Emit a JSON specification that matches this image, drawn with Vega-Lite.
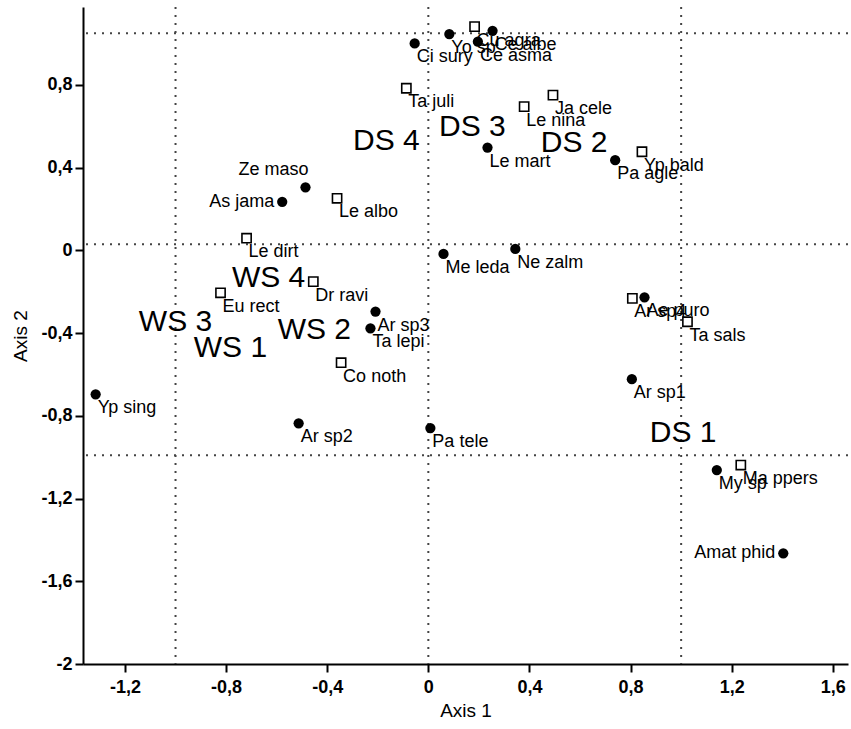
{
  "$schema": "https://vega.github.io/schema/vega-lite/v6.json",
  "width": 765,
  "height": 657,
  "autosize": "none",
  "padding": {"left": 83, "top": 7, "right": 3, "bottom": 65},
  "background": "white",
  "config": {"view": {"stroke": null}, "font": "Liberation Sans"},
  "datasets": {
    "species": [
      {"name": "Yo sp", "type": "dot", "x": 0.083, "y": 1.046},
      {"name": "Ce albe", "type": "dot", "x": 0.254, "y": 1.062},
      {"name": "Ce asma", "type": "dot", "x": 0.196, "y": 1.009},
      {"name": "Ci sury", "type": "dot", "x": -0.054, "y": 1.001},
      {"name": "Le mart", "type": "dot", "x": 0.234, "y": 0.497},
      {"name": "Pa agle", "type": "dot", "x": 0.739, "y": 0.436},
      {"name": "Ze maso", "type": "dot", "x": -0.486, "y": 0.305},
      {"name": "As jama", "type": "dot", "x": -0.578, "y": 0.235},
      {"name": "Me leda", "type": "dot", "x": 0.060, "y": -0.017},
      {"name": "Ne zalm", "type": "dot", "x": 0.344, "y": 0.007},
      {"name": "Ar sp3", "type": "dot", "x": -0.209, "y": -0.296},
      {"name": "Ta lepi", "type": "dot", "x": -0.229, "y": -0.377},
      {"name": "Yp sing", "type": "dot", "x": -1.316, "y": -0.696},
      {"name": "Ar sp2", "type": "dot", "x": -0.513, "y": -0.836},
      {"name": "Pa tele", "type": "dot", "x": 0.008, "y": -0.859},
      {"name": "Ae puro", "type": "dot", "x": 0.855, "y": -0.227},
      {"name": "Ar sp1", "type": "dot", "x": 0.805, "y": -0.623},
      {"name": "My sp", "type": "dot", "x": 1.141, "y": -1.062},
      {"name": "Amat phid", "type": "dot", "x": 1.404, "y": -1.465},
      {"name": "Cu agra", "type": "square", "x": 0.183, "y": 1.082},
      {"name": "Ta juli", "type": "square", "x": -0.087, "y": 0.784},
      {"name": "Le nina", "type": "square", "x": 0.379, "y": 0.695},
      {"name": "Ja cele", "type": "square", "x": 0.493, "y": 0.751},
      {"name": "Yp bald", "type": "square", "x": 0.845, "y": 0.477},
      {"name": "Le albo", "type": "square", "x": -0.361, "y": 0.252},
      {"name": "Le dirt", "type": "square", "x": -0.719, "y": 0.059},
      {"name": "Dr ravi", "type": "square", "x": -0.455, "y": -0.151},
      {"name": "Eu rect", "type": "square", "x": -0.822, "y": -0.205},
      {"name": "Co noth", "type": "square", "x": -0.345, "y": -0.543},
      {"name": "Ar sp4", "type": "square", "x": 0.807, "y": -0.232},
      {"name": "Ta sals", "type": "square", "x": 1.025, "y": -0.345},
      {"name": "Ma ppers", "type": "square", "x": 1.236, "y": -1.038}
    ],
    "sites": [
      {"name": "DS 4", "x": -0.166, "y": 0.528},
      {"name": "DS 3", "x": 0.174, "y": 0.597},
      {"name": "DS 2", "x": 0.577, "y": 0.519},
      {"name": "DS 1", "x": 1.008, "y": -0.883},
      {"name": "WS 4", "x": -0.632, "y": -0.133},
      {"name": "WS 3", "x": -1.0, "y": -0.346},
      {"name": "WS 2", "x": -0.451, "y": -0.385},
      {"name": "WS 1", "x": -0.783, "y": -0.472}
    ],
    "vlines": [{"v": -1.0}, {"v": 0.0}, {"v": 1.0}],
    "hlines": [{"v": 1.05}, {"v": 0.03}, {"v": -0.99}]
  },
  "layer": [
    {
      "data": {"name": "vlines"},
      "mark": {"type": "rule", "color": "#444", "strokeWidth": 2, "strokeDash": [2, 6]},
      "encoding": {
        "x": {"field": "v", "type": "quantitative"}
      }
    },
    {
      "data": {"name": "hlines"},
      "mark": {"type": "rule", "color": "#444", "strokeWidth": 2, "strokeDash": [2, 6]},
      "encoding": {
        "y": {"field": "v", "type": "quantitative"}
      }
    },
    {
      "data": {"name": "species"},
      "transform": [{"filter": "datum.type == 'dot'"}],
      "mark": {"type": "point", "shape": "circle", "filled": true, "color": "black", "size": 105, "opacity": 1},
      "encoding": {
        "x": {"field": "x", "type": "quantitative", "scale": {"domain": [-1.366, 1.66], "nice": false, "zero": false},
          "axis": {"values": [-1.2, -0.8, -0.4, 0, 0.4, 0.8, 1.2, 1.6], "grid": false, "domainColor": "black", "domainWidth": 2, "tickColor": "black", "tickWidth": 2, "tickSize": 8,
            "labelExpr": "replace(replace(format(datum.value, '~g'), '.', ','), '\u2212', '-')",
            "labelFont": "Liberation Sans", "labelFontWeight": "bold", "labelFontSize": 18, "labelColor": "black", "labelPadding": 6,
            "title": "Axis 1", "titleFont": "Liberation Sans", "titleFontWeight": "normal", "titleFontSize": 19, "titleColor": "black", "titlePadding": 5}},
        "y": {"field": "y", "type": "quantitative", "scale": {"domain": [-2, 1.177], "nice": false, "zero": false},
          "axis": {"values": [-2, -1.6, -1.2, -0.8, -0.4, 0, 0.4, 0.8], "grid": false, "domainColor": "black", "domainWidth": 2, "tickColor": "black", "tickWidth": 2, "tickSize": 8,
            "labelExpr": "replace(replace(format(datum.value, '~g'), '.', ','), '\u2212', '-')",
            "labelFont": "Liberation Sans", "labelFontWeight": "bold", "labelFontSize": 18, "labelColor": "black", "labelPadding": 3,
            "title": "Axis 2", "titleFont": "Liberation Sans", "titleFontWeight": "normal", "titleFontSize": 19, "titleColor": "black", "titlePadding": 10}}
      }
    },
    {
      "data": {"name": "species"},
      "transform": [{"filter": "datum.type == 'square'"}],
      "mark": {"type": "point", "shape": "square", "filled": false, "color": "black", "strokeWidth": 1.6, "size": 85, "opacity": 1},
      "encoding": {
        "x": {"field": "x", "type": "quantitative"},
        "y": {"field": "y", "type": "quantitative"}
      }
    },
    {
      "data": {"name": "species"},
      "transform": [{"filter": {"not": {"field": "name", "oneOf": ["As jama", "Ze maso", "Amat phid"]}}}],
      "mark": {"type": "text", "align": "left", "baseline": "middle", "dx": 2, "dy": 14, "fontSize": 18, "font": "Liberation Sans", "color": "black"},
      "encoding": {
        "x": {"field": "x", "type": "quantitative"},
        "y": {"field": "y", "type": "quantitative"},
        "text": {"field": "name"}
      }
    },
    {
      "data": {"name": "species"},
      "transform": [{"filter": {"field": "name", "oneOf": ["As jama", "Amat phid"]}}],
      "mark": {"type": "text", "align": "right", "baseline": "middle", "dx": -8, "dy": 0, "fontSize": 18, "font": "Liberation Sans", "color": "black"},
      "encoding": {
        "x": {"field": "x", "type": "quantitative"},
        "y": {"field": "y", "type": "quantitative"},
        "text": {"field": "name"}
      }
    },
    {
      "data": {"name": "species"},
      "transform": [{"filter": {"field": "name", "oneOf": ["Ze maso"]}}],
      "mark": {"type": "text", "align": "right", "baseline": "middle", "dx": 3, "dy": -17, "fontSize": 18, "font": "Liberation Sans", "color": "black"},
      "encoding": {
        "x": {"field": "x", "type": "quantitative"},
        "y": {"field": "y", "type": "quantitative"},
        "text": {"field": "name"}
      }
    },
    {
      "data": {"name": "sites"},
      "mark": {"type": "text", "align": "center", "baseline": "middle", "fontSize": 30, "font": "Liberation Sans", "color": "black"},
      "encoding": {
        "x": {"field": "x", "type": "quantitative"},
        "y": {"field": "y", "type": "quantitative"},
        "text": {"field": "name"}
      }
    }
  ]
}
